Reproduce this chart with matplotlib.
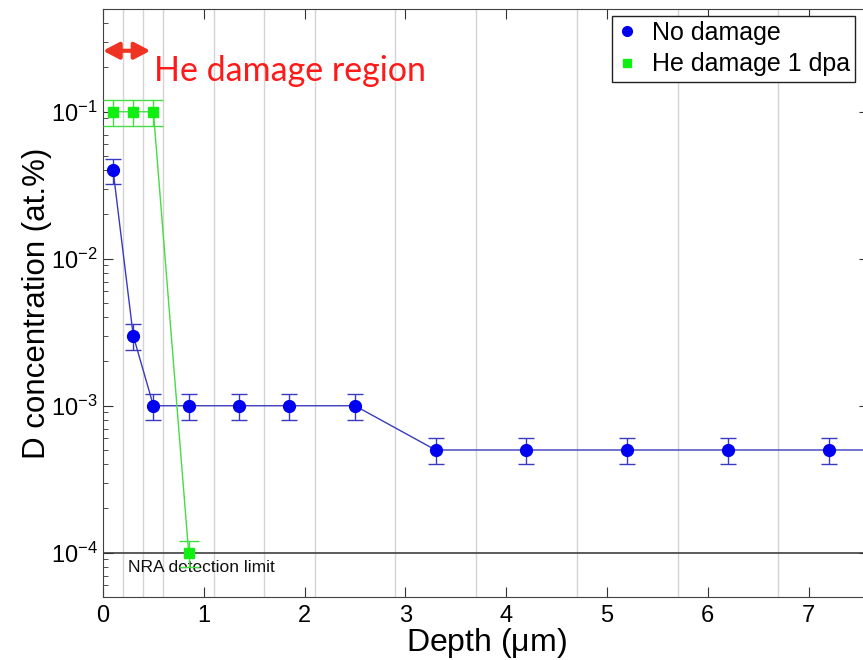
import numpy as np
import matplotlib.pyplot as plt
from matplotlib.lines import Line2D

# --------------------------------------------------
# Données : profils de D mesurés par NRA
# --------------------------------------------------
depth_nodmg = [0.1, 0.3, 0.5, 0.85, 1.35, 1.85, 2.5, 3.3, 4.2, 5.2, 6.2, 7.2, 8.2]
conc_nodmg = [0.04, 0.003, 0.001, 0.001, 0.001, 0.001, 0.001,
              0.0005, 0.0005, 0.0005, 0.0005, 0.0005, 0.0005]

depth_he = [0.1, 0.3, 0.5, 0.85]
conc_he = [0.1, 0.1, 0.1, 0.0001]

# incertitude relative (20 %)
rel_err = 0.2

# limites des tranches de profondeur
bin_edges = [0.2, 0.4, 0.6, 1.1, 1.6, 2.1, 2.9, 3.7, 4.7, 5.7, 6.7, 7.7]

nra_limit = 1e-4
he_region = 0.47

plt.rcParams["font.family"] = ["Liberation Sans", "DejaVu Sans"]
plt.rcParams["mathtext.default"] = "regular"

fig = plt.figure(figsize=(8.63, 6.6), dpi=100)
ax = fig.add_axes([103 / 863, 63 / 660, 766 / 863, 588 / 660])

for xb in bin_edges:
    ax.axvline(xb, color="#d4d4d4", lw=1, zorder=0)

ax.axhline(nra_limit, color="#404040", lw=1.2, zorder=1)
ax.text(0.25, 7.9e-5, "NRA detection limit", fontsize=12.5,
        va="center", ha="left", color="#111111")

conc_nodmg = np.array(conc_nodmg)
conc_he = np.array(conc_he)

ax.errorbar(depth_nodmg, conc_nodmg, yerr=rel_err * conc_nodmg,
            fmt="o-", color="#3a3ac0", lw=1, elinewidth=1,
            capsize=6, capthick=1, markersize=8.5,
            markerfacecolor="#0000f0", markeredgecolor="#0000f0", zorder=3)

ax.errorbar(depth_he, conc_he, yerr=rel_err * conc_he,
            fmt="s-", color="#44dd44", lw=1, elinewidth=1,
            capsize=7.5, capthick=1, markersize=6.5,
            markerfacecolor="#11ee11", markeredgecolor="#11ee11", zorder=4)

ax.set_yscale("log")
ax.set_xlim(0, 7.6)
ax.set_ylim(5e-5, 0.5)
ax.set_xticks(range(0, 8))

ax.tick_params(which="both", direction="in", top=True, right=True,
               labelsize=17, color="#333333")
ax.tick_params(which="major", length=7, pad=6)
ax.tick_params(axis="y", which="major", pad=4)
ax.tick_params(which="minor", length=3.5)
ax.tick_params(axis="x", which="minor", bottom=False, top=False)
for sp in ax.spines.values():
    sp.set_color("#404040")

ax.set_xlabel("Depth ($\\mu$m)", fontsize=23, labelpad=-1)
ax.set_ylabel("D concentration (at.%)", fontsize=22.5, labelpad=-1)

# zone endommagée par He
ax.annotate("", xy=(0.0, 0.26), xytext=(he_region, 0.26),
            arrowprops=dict(arrowstyle="<|-|>,head_length=0.95,head_width=0.5",
                            color="#ee3322", lw=3, shrinkA=0, shrinkB=0,
                            mutation_scale=10))
ax.text(0.51, 0.19, "He damage region", fontsize=24.5, color="#ff1a1a",
        family="Lato", va="center", ha="left")

handles = [
    Line2D([], [], ls="none", marker="o", color="#0000f0", markersize=7),
    Line2D([], [], ls="none", marker="s", color="#11ee11", markersize=6),
]
leg = fig.legend(handles, ["No damage", "He damage 1 dpa"],
                 loc="upper left", bbox_to_anchor=(612 / 863, 1 - 16 / 660),
                 fontsize=18, frameon=True, fancybox=False, framealpha=1,
                 edgecolor="#222222", handlelength=0.8, handletextpad=0.6,
                 borderpad=0.2, labelspacing=0.3, borderaxespad=0)
leg.get_frame().set_linewidth(1)

fig.savefig("out.png", dpi=100)
